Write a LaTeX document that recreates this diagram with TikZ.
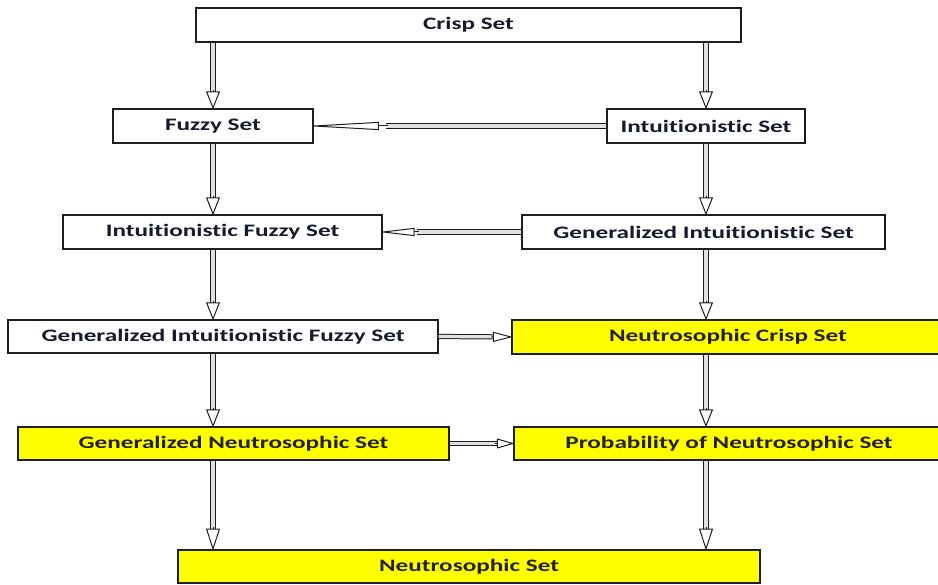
\documentclass[tikz,border=0pt]{standalone}
\usepackage{fontspec}
\setmainfont[FakeStretch=1.44, Ligatures=NoCommon]{Carlito}
\usetikzlibrary{arrows.meta,calc}
\definecolor{ylw}{RGB}{255,255,0}
\definecolor{txtw}{RGB}{22,26,45}
\definecolor{txty}{RGB}{35,33,8}
\definecolor{edgec}{RGB}{30,30,30}
\definecolor{inner}{RGB}{225,225,225}
\tikzset{
  box/.style={draw=edgec, line width=1.2pt, inner sep=0pt, fill=white,
    font=\fontsize{17.5}{20}\selectfont\bfseries, text=txtw},
  ybox/.style={box, fill=ylw, text=txty},
  shaft/.style={draw=edgec, line width=1pt, double=inner, double distance=3.2pt},
  tipline/.style={draw=edgec, line width=1pt},
}
\newcommand\dblarrow[4]{%
  \draw[shaft] (#1) -- ($(#2)!#3-1.2pt!(#1)$);
  \draw[tipline, -{Triangle[open, round, length=#3, width=#4]}] ($(#2)!#3!(#1)$) -- (#2);
}
\begin{document}
\begin{tikzpicture}[x=1pt, y=-1pt]
\useasboundingbox (0,0) rectangle (938,585);
\node[box, minimum width=545pt, minimum height=34pt] (crisp) at (468.5,25) {Crisp Set};
\node[box, minimum width=200pt, minimum height=34pt] (fuzzy) at (213,126) {Fuzzy Set};
\node[box, minimum width=198pt, minimum height=34pt] (intu) at (706,126) {Intuitionistic Set};
\node[box, minimum width=319pt, minimum height=34pt] (ifs) at (222.5,232) {Intuitionistic Fuzzy Set};
\node[box, minimum width=363pt, minimum height=34pt] (gis) at (703.5,232) {Generalized Intuitionistic Set};
\node[box, minimum width=430pt, minimum height=33pt] (gifs) at (223,336.5) {Generalized Intuitionistic Fuzzy Set};
\node[ybox, minimum width=432pt, minimum height=34pt] (ncs) at (728,337) {Neutrosophic Crisp Set};
\node[ybox, minimum width=431pt, minimum height=33pt] (gns) at (233.5,443.5) {Generalized Neutrosophic Set};
\node[ybox, minimum width=430pt, minimum height=33pt] (pns) at (729,443.5) {Probability of Neutrosophic Set};
\node[ybox, minimum width=582pt, minimum height=33pt] (ns) at (469,566.5) {Neutrosophic Set};
% left column
\dblarrow{crisp.south -| fuzzy}{fuzzy.north}{18pt}{14pt}
\dblarrow{fuzzy.south}{ifs.north -| fuzzy}{18pt}{14pt}
\dblarrow{ifs.south -| fuzzy}{gifs.north -| fuzzy}{18pt}{14pt}
\dblarrow{gifs.south -| fuzzy}{gns.north -| fuzzy}{18pt}{14pt}
\dblarrow{gns.south -| fuzzy}{ns.north -| fuzzy}{22pt}{14pt}
% right column
\dblarrow{crisp.south -| intu}{intu.north}{18pt}{14pt}
\dblarrow{intu.south}{gis.north -| intu}{18pt}{14pt}
\dblarrow{gis.south -| intu}{ncs.north -| intu}{18pt}{14pt}
\dblarrow{ncs.south -| intu}{pns.north -| intu}{18pt}{14pt}
\dblarrow{pns.south -| intu}{ns.north -| intu}{22pt}{14pt}
% horizontal
\dblarrow{intu.west}{fuzzy.east}{74pt}{8pt}
\dblarrow{gis.west}{ifs.east}{36pt}{8pt}
\dblarrow{gifs.east}{ncs.west}{20pt}{10pt}
\dblarrow{gns.east}{pns.west}{18pt}{10pt}
\end{tikzpicture}
\end{document}
